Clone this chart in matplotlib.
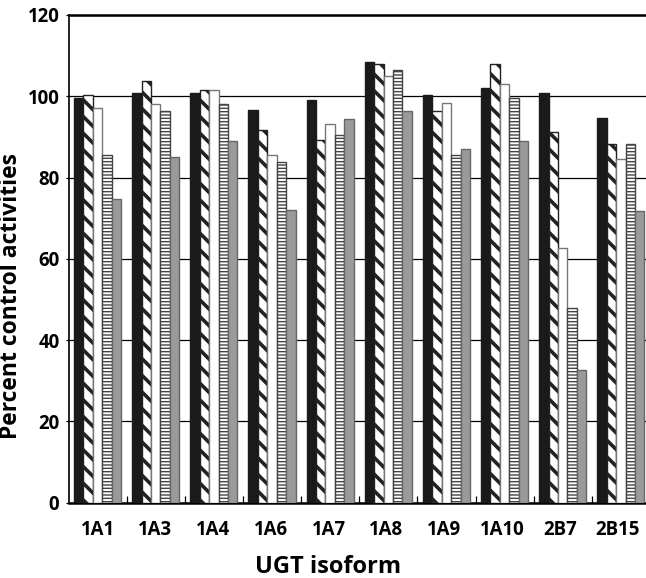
import matplotlib
matplotlib.use("Agg")
import matplotlib.pyplot as plt
import numpy as np

isoforms = ["1A1", "1A3", "1A4", "1A6", "1A7", "1A8", "1A9", "1A10", "2B7", "2B15"]
s1 = [99.5, 100.9, 100.9, 96.7, 99.0, 108.5, 100.2, 102.0, 100.9, 94.6]
s2 = [100.2, 103.7, 101.6, 91.8, 89.3, 107.9, 96.3, 107.9, 91.3, 88.3]
s3 = [97.0, 98.0, 101.6, 85.5, 93.1, 105.0, 98.3, 102.9, 62.6, 84.6]
s4 = [85.5, 96.3, 98.0, 83.8, 90.4, 106.5, 85.6, 99.5, 48.0, 88.3]
s5 = [74.7, 85.0, 88.9, 72.0, 94.3, 96.3, 87.1, 88.9, 32.6, 71.8]
yticks = [0, 20, 40, 60, 80, 100, 120]

series = [s1, s2, s3, s4, s5]
styles = [
    dict(facecolor="#1a1a1a", edgecolor="#1a1a1a", hatch=None, hlw=1.0),
    dict(facecolor="white", edgecolor="#222222", hatch="\\\\", hlw=2.6),
    dict(facecolor="white", edgecolor="#777777", hatch=None, hlw=1.0),
    dict(facecolor="white", edgecolor="#444444", hatch="-----", hlw=1.0),
    dict(facecolor="#9a9a9a", edgecolor="#666666", hatch=None, hlw=1.0),
]

fig = plt.figure(figsize=(6.46, 5.78), dpi=100)
ax = fig.add_axes([68.5 / 646, 75.5 / 578, (650 - 68.5) / 646, (502.5 - 15) / 578])

font = ["Open Sans", "DejaVu Sans"]
x = np.arange(len(isoforms))
w = 0.162
ax.set_axisbelow(True)
for k, (vals, st) in enumerate(zip(series, styles)):
    with plt.rc_context({"hatch.linewidth": st["hlw"]}):
        bars = ax.bar(x + (k - 2) * w, vals, width=w, facecolor=st["facecolor"],
                      edgecolor=st["edgecolor"], hatch=st["hatch"], linewidth=1.0,
                      zorder=3)
        for b in bars:
            if hasattr(b, "set_hatch_linewidth"):
                b.set_hatch_linewidth(st["hlw"])

ax.set_xlim(-0.5, len(isoforms) - 0.5)
ax.set_ylim(0, 120)
ax.set_yticks(yticks)
ax.set_yticklabels([str(t) for t in yticks], fontfamily=font, fontweight="bold", fontsize=13.4)
ax.yaxis.grid(True, color="black", linewidth=0.9)
ax.tick_params(axis="y", direction="out", length=2, width=0.9, pad=4.5)

ax.set_xticks(x - 0.06 * x / 9)
ax.set_xticklabels(isoforms, fontfamily=font, fontweight="bold", fontsize=13.4)
ax.tick_params(axis="x", which="major", length=0, pad=12.5)
ax.set_xticks(np.arange(len(isoforms) - 1) + 0.5, minor=True)
ax.tick_params(axis="x", which="minor", direction="in", length=5, width=0.9)

ax.spines["right"].set_visible(False)
ax.spines["top"].set_linewidth(1.8)
ax.spines["bottom"].set_linewidth(1.8)
ax.spines["left"].set_linewidth(1.2)

fig.text(11 / 646, 1 - 296 / 578, "Percent control activities", rotation=90,
         ha="center", va="center", fontfamily=font, fontweight="bold", fontsize=16.5)
fig.text(328.5 / 646, 1 - 573 / 578, "UGT isoform", ha="center", va="baseline",
         fontfamily=font, fontweight="bold", fontsize=17)

fig.savefig("out.png", dpi=100)
